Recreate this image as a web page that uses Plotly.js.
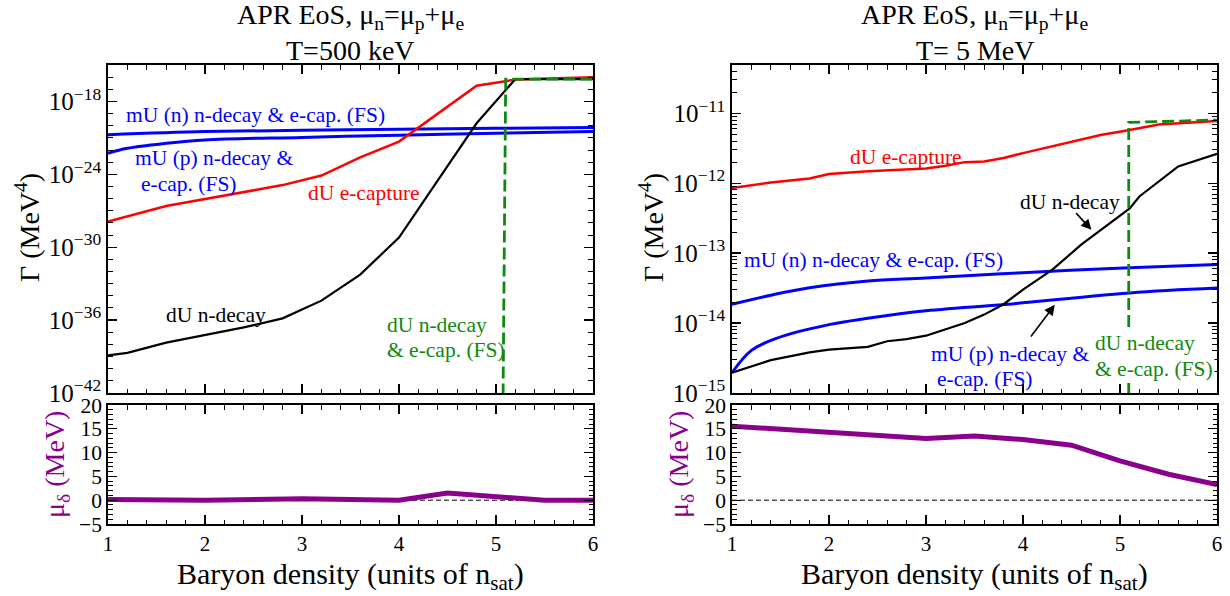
<!DOCTYPE html>
<html>
<head>
<meta charset="utf-8">
<script src="https://cdn.plot.ly/plotly-3.0.1.min.js"></script>
<style>html,body{margin:0;padding:0;background:#fff;}#chart{width:1230px;height:596px;}</style>
</head>
<body>
<div id="chart"></div>
<script>
// ---------- Left panel (T = 500 keV) ----------
const xL_mUn = [1, 2, 3, 4, 5, 6];
const gL_mUn = [1.8e-21, 3.3e-21, 4.3e-21, 5.2e-21, 6.2e-21, 7.1e-21];
const xL_mUp = [1, 1.2, 1.6, 2, 3, 4, 5, 6];
const gL_mUp = [5.4e-23, 1.4e-22, 3.6e-22, 6.8e-22, 1.1e-21, 1.66e-21, 2.45e-21, 3.3e-21];
const xL_ecap = [1, 1.6, 2.8, 3.2, 3.6, 4.0, 4.8, 5.2, 6.0];
const gL_ecap = [1.3e-28, 2.5e-27, 1.3e-25, 8e-25, 2.5e-23, 5e-22, 2e-17, 6.3e-17, 1e-16];
const xL_ndec = [1, 1.2, 1.6, 2.0, 2.4, 2.8, 3.2, 3.6, 4.0, 4.4, 4.8, 5.2, 6.0];
const gL_ndec = [1.26e-39, 2e-39, 1.4e-38, 6.3e-38, 2.5e-37, 1.4e-36, 4e-35, 5.6e-33, 6.3e-30, 3.2e-25, 1.6e-20, 7e-17, 7e-17];
const xL_fs = [5.07, 5.1, 6.0];
const gL_fs = [1e-45, 7e-17, 7e-17];
const xL_mu = [1, 2, 3, 4, 4.5, 5, 5.5, 6];
const muL = [0.15, 0, 0.3, 0, 1.5, 0.85, 0, 0];

// ---------- Right panel (T = 5 MeV) ----------
const xR_mUn = [1, 1.4, 1.8, 2.4, 3.0, 4.0, 5.1, 6.0];
const gR_mUn = [1.86e-14, 2.5e-14, 3.2e-14, 4.0e-14, 4.4e-14, 5.25e-14, 6.2e-14, 6.9e-14];
const xR_mUp = [1, 1.2, 1.45, 2.0, 2.4, 3.0, 3.85, 4.0, 5.1, 6.0];
const gR_mUp = [1.95e-15, 4.07e-15, 6.0e-15, 9.5e-15, 1.17e-14, 1.5e-14, 1.86e-14, 1.95e-14, 2.7e-14, 3.16e-14];
const xR_ecap = [1, 1.4, 1.8, 2.0, 2.4, 3.0, 3.2, 3.4, 3.6, 3.8, 4.0, 4.4, 4.8, 5.1, 5.4, 6.0];
const gR_ecap = [8.5e-13, 1.02e-12, 1.17e-12, 1.35e-12, 1.48e-12, 1.62e-12, 1.78e-12, 2.0e-12, 2.04e-12, 2.29e-12, 2.69e-12, 3.63e-12, 4.9e-12, 5.75e-12, 6.9e-12, 7.76e-12];
const xR_ndec = [1, 1.4, 1.8, 2.0, 2.4, 2.6, 2.8, 3.0, 3.4, 3.6, 3.8, 4.0, 4.3, 4.6, 4.8, 5.1, 5.2, 5.6, 6.0];
const gR_ndec = [1.95e-15, 2.95e-15, 3.8e-15, 4.17e-15, 4.57e-15, 5.5e-15, 5.9e-15, 6.6e-15, 1.0e-14, 1.32e-14, 1.86e-14, 3.0e-14, 5.75e-14, 1.32e-13, 2.14e-13, 4.37e-13, 6.46e-13, 1.74e-12, 2.63e-12];
const xR_fs = [5.09, 5.09, 6.0];
const gR_fs = [1e-16, 7.4e-12, 8.0e-12];
const xR_mu = [1, 2, 3, 3.5, 4, 4.5, 5, 5.5, 6];
const muR = [15.55, 14.35, 12.95, 13.5, 12.75, 11.55, 8.26, 5.46, 3.3];

// ---------- Ticks ----------
const xTicks = [1, 2, 3, 4, 5, 6];
const muTicks = [-5, 0, 5, 10, 15, 20];
const expL = [-42, -36, -30, -24, -18];
const expR = [-15, -14, -13, -12, -11];

const FONT = 'Liberation Serif, Times New Roman, Times, serif';
const BLUE = '#0000ff', RED = '#ff0000', GREEN = '#118811', PURPLE = '#8b008b';

function pow10Text(e) { return '10<sup>' + String(e).replace('-', '\u2212') + '</sup>'; }

const minorL = [];
for (let e = -42; e <= -15; e++) minorL.push(Math.pow(10, e));
const minorR = [];
for (let e = -15; e <= -11; e++) for (let k = 2; k <= 9; k++) minorR.push(k * Math.pow(10, e));

function line(x, y, xa, ya, color, width, dash, shape) {
  return {x: x, y: y, xaxis: xa, yaxis: ya, type: 'scatter', mode: 'lines',
    line: {color: color, width: width, dash: dash || 'solid', shape: shape || 'linear'},
    hoverinfo: 'skip', showlegend: false};
}

const data = [
  line(xL_mUn, gL_mUn, 'x', 'y', BLUE, 3, 'solid', 'spline'),
  line(xL_mUp, gL_mUp, 'x', 'y', BLUE, 3, 'solid', 'spline'),
  line(xL_ecap, gL_ecap, 'x', 'y', RED, 2.5),
  line(xL_ndec, gL_ndec, 'x', 'y', 'black', 2.2),
  line(xL_fs, gL_fs, 'x', 'y', GREEN, 2.8, '12px,5px'),
  line([1, 6], [0, 0], 'x2', 'y2', 'black', 1, '5px,3px'),
  line(xL_mu, muL, 'x2', 'y2', PURPLE, 5),
  line(xR_mUn, gR_mUn, 'x3', 'y3', BLUE, 3, 'solid', 'spline'),
  line(xR_mUp, gR_mUp, 'x3', 'y3', BLUE, 3, 'solid', 'spline'),
  line(xR_ecap, gR_ecap, 'x3', 'y3', RED, 2.5),
  line(xR_ndec, gR_ndec, 'x3', 'y3', 'black', 2.2),
  line(xR_fs, gR_fs, 'x3', 'y3', GREEN, 2.8, '12px,5px'),
  line([1, 6], [0, 0], 'x4', 'y4', 'black', 1, '5px,3px'),
  line(xR_mu, muR, 'x4', 'y4', PURPLE, 5)
];

const domXL = [108 / 1230, 593 / 1230];
const domXR = [732 / 1230, 1217 / 1230];
const domYT = [(596 - 393) / 596, (596 - 65) / 596];
const domYB = [(596 - 524) / 596, (596 - 405) / 596];

function xax(dom, anchor, labels) {
  return {domain: dom, anchor: anchor, range: [1, 6], tickvals: xTicks, ticktext: xTicks.map(String),
    showticklabels: labels, ticks: 'inside', ticklen: 9, tickwidth: 1.3, tickcolor: 'black',
    minor: {dtick: 0.2, tick0: 0, ticks: 'inside', ticklen: 4.5, tickwidth: 1, tickcolor: 'black'},
    showline: true, linecolor: 'black', linewidth: 1.8, mirror: 'ticks', showgrid: false, zeroline: false,
    tickfont: {family: FONT, size: 21, color: 'black'}, fixedrange: true};
}
function yaxLog(dom, anchor, rng, exps, minor) {
  return {domain: dom, anchor: anchor, type: 'log', range: rng,
    tickvals: exps.map(e => Math.pow(10, e)), ticktext: exps.map(pow10Text),
    ticks: 'inside', ticklen: 9, tickwidth: 1.3, tickcolor: 'black',
    minor: {tickvals: minor, ticks: 'inside', ticklen: 5, tickwidth: 1, tickcolor: 'black'},
    showline: true, linecolor: 'black', linewidth: 1.8, mirror: 'ticks', showgrid: false, zeroline: false,
    tickfont: {family: FONT, size: 25, color: 'black'}, fixedrange: true};
}
function yaxMu(dom, anchor) {
  return {domain: dom, anchor: anchor, range: [-5, 20], tickvals: muTicks,
    ticktext: muTicks.map(v => String(v).replace('-', '\u2212')),
    ticks: 'inside', ticklen: 9, tickwidth: 1.3, tickcolor: 'black',
    minor: {dtick: 1, tick0: 0, ticks: 'inside', ticklen: 4.5, tickwidth: 1, tickcolor: 'black'},
    showline: true, linecolor: 'black', linewidth: 1.8, mirror: 'ticks', showgrid: false, zeroline: false,
    tickfont: {family: FONT, size: 21.5, color: 'black'}, fixedrange: true};
}

function txt(text, x, y, xr, yr, color, size, extra) {
  return Object.assign({text: text, x: x, y: y, xref: xr, yref: yr, showarrow: false,
    xanchor: 'left', yanchor: 'middle', font: {family: FONT, size: size || 21.5, color: color}}, extra || {});
}
function arrow(xa, ya, x0, y0, x1, y1) {
  return {text: '', x: x1, y: y1, ax: x0, ay: y0, xref: xa, yref: ya, axref: xa, ayref: ya,
    showarrow: true, arrowhead: 2, arrowsize: 1.3, arrowwidth: 1.6, arrowcolor: 'black', standoff: 0};
}

const LS = 21.5;
const cxL = (domXL[0] + domXL[1]) / 2, cxR = (domXR[0] + domXR[1]) / 2;
const annotations = [
  // titles
  txt('APR EoS, \u03bc<sub>n</sub>=\u03bc<sub>p</sub>+\u03bc<sub>e</sub>', cxL, 1 - 17 / 596, 'paper', 'paper', 'black', 28, {xanchor: 'center'}),
  txt('T=500 keV', cxL, 1 - 50 / 596, 'paper', 'paper', 'black', 28, {xanchor: 'center'}),
  txt('APR EoS, \u03bc<sub>n</sub>=\u03bc<sub>p</sub>+\u03bc<sub>e</sub>', cxR, 1 - 17 / 596, 'paper', 'paper', 'black', 28, {xanchor: 'center'}),
  txt('T= 5 MeV', cxR, 1 - 50 / 596, 'paper', 'paper', 'black', 28, {xanchor: 'center'}),
  // axis titles
  txt('\u0393 (MeV<sup>4</sup>)', 27 / 1230, 1 - 228 / 596, 'paper', 'paper', 'black', 28, {xanchor: 'center', textangle: -90}),
  txt('\u0393 (MeV<sup>4</sup>)', 651 / 1230, 1 - 228 / 596, 'paper', 'paper', 'black', 28, {xanchor: 'center', textangle: -90}),
  txt('\u03bc<sub>\u03b4</sub> (MeV)', 56 / 1230, 1 - 465 / 596, 'paper', 'paper', PURPLE, 28, {xanchor: 'center', textangle: -90}),
  txt('\u03bc<sub>\u03b4</sub> (MeV)', 680 / 1230, 1 - 465 / 596, 'paper', 'paper', PURPLE, 28, {xanchor: 'center', textangle: -90}),
  txt('Baryon density (units of n<sub>sat</sub>)', cxL, 1 - 576 / 596, 'paper', 'paper', 'black', 30, {xanchor: 'center'}),
  txt('Baryon density (units of n<sub>sat</sub>)', cxR, 1 - 576 / 596, 'paper', 'paper', 'black', 30, {xanchor: 'center'}),
  // left panel labels (y in log10 units)
  txt('mU (n) n-decay &amp; e-cap. (FS)', 1.16, -19.1, 'x', 'y', BLUE, LS),
  txt('mU (p) n-decay &amp;', 1.26, -22.68, 'x', 'y', BLUE, LS),
  txt('e-cap. (FS)', 1.32, -24.8, 'x', 'y', BLUE, LS),
  txt('dU e-capture', 3.04, -25.57, 'x', 'y', RED, LS),
  txt('dU n-decay', 1.58, -35.6, 'x', 'y', 'black', LS),
  txt('dU n-decay', 3.86, -36.44, 'x', 'y', GREEN, LS),
  txt('&amp; e-cap. (FS)', 3.86, -38.5, 'x', 'y', GREEN, LS),
  // right panel labels
  txt('dU e-capture', 2.20, -11.62, 'x3', 'y3', RED, LS),
  txt('dU n-decay', 3.95, -12.265, 'x3', 'y3', 'black', LS),
  txt('mU (n) n-decay &amp; e-cap. (FS)', 1.10, -13.1, 'x3', 'y3', BLUE, LS),
  txt('mU (p) n-decay &amp;', 3.03, -14.44, 'x3', 'y3', BLUE, LS),
  txt('e-cap. (FS)', 3.09, -14.8, 'x3', 'y3', BLUE, LS),
  txt('dU n-decay', 4.72, -14.29, 'x3', 'y3', GREEN, LS, {bgcolor: 'white'}),
  txt('&amp; e-cap. (FS)', 4.72, -14.65, 'x3', 'y3', GREEN, LS, {bgcolor: 'white'}),
  arrow('x3', 'y3', 4.534, -12.406, 4.706, -12.667),
  arrow('x3', 'y3', 4.070, -14.214, 4.328, -13.739)
];

const layout = {
  width: 1230, height: 596,
  margin: {l: 0, r: 0, t: 0, b: 0},
  paper_bgcolor: 'white', plot_bgcolor: 'white',
  font: {family: FONT, color: 'black'},
  showlegend: false,
  xaxis: xax(domXL, 'y', false),
  yaxis: yaxLog(domYT, 'x', [-42, -15], expL, minorL),
  xaxis2: xax(domXL, 'y2', true),
  yaxis2: yaxMu(domYB, 'x2'),
  xaxis3: xax(domXR, 'y3', false),
  yaxis3: yaxLog(domYT, 'x3', [-15, -10.31], expR, minorR),
  xaxis4: xax(domXR, 'y4', true),
  yaxis4: yaxMu(domYB, 'x4'),
  annotations: annotations
};

Plotly.newPlot('chart', data, layout, {displayModeBar: false, staticPlot: true});
</script>
</body>
</html>
